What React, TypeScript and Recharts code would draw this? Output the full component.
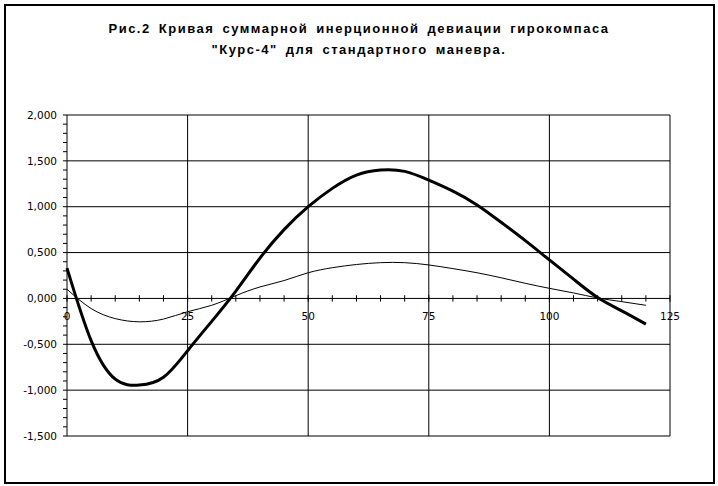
import { LineChart, Line, XAxis, YAxis, ReferenceLine } from 'recharts'

const xValues = [0, 5, 10, 15, 20, 25, 30, 35, 40, 45, 50, 55, 60, 65, 70, 75, 80, 85, 90, 95, 100, 105, 110, 115, 120]
const totalDeviation = [0.33, -0.46, -0.88, -0.945, -0.86, -0.57, -0.25, 0.08, 0.44, 0.75, 1.0, 1.2, 1.345, 1.4, 1.385, 1.29, 1.17, 1.02, 0.83, 0.63, 0.42, 0.21, 0.01, -0.135, -0.28]
const secondDeviation = [0.1, -0.11, -0.22, -0.255, -0.225, -0.145, -0.075, 0.03, 0.125, 0.195, 0.28, 0.335, 0.37, 0.39, 0.39, 0.365, 0.325, 0.28, 0.225, 0.165, 0.11, 0.06, 0.005, -0.035, -0.075]

const xMajorTicks = [0, 25, 50, 75, 100, 125]
const xMinorTicks = Array.from({ length: 26 }, (_, i) => i * 5)
const yMajorTicks = [-1.5, -1, -0.5, 0, 0.5, 1, 1.5, 2]
const yMinorTicks = Array.from({ length: 36 }, (_, i) => Math.round((-1.5 + i * 0.1) * 10) / 10)

const titleLines = ['Рис.2 Кривая суммарной инерционной девиации гирокомпаса', '"Курс-4" для стандартного маневра.']

const data = xValues.map((x, i) => ({ x, total: totalDeviation[i], second: secondDeviation[i] }))

const isMajorY = (v: number) => yMajorTicks.some((t) => Math.abs(t - v) < 1e-6)
const fmtY = (v: number) => (isMajorY(v) ? v.toFixed(3).replace('.', ',') : '')

const tickFont = { fontSize: 10.5, fill: '#000', fontFamily: '"DejaVu Sans", sans-serif' }

export default function App() {
  return (
    <div style={{ position: 'absolute', left: 0, top: 0, width: 718, height: 486, background: '#fff' }}>
      <div style={{ position: 'absolute', left: 4, top: 4, width: 707, height: 476, border: '2px solid #000' }} />
      <div
        style={{
          position: 'absolute', left: 0, top: 18, width: 718, textAlign: 'center',
          fontFamily: '"Liberation Sans", Arial, sans-serif', fontWeight: 'bold', fontSize: 13,
          letterSpacing: 1.5, wordSpacing: 3, lineHeight: '21px', color: '#000',
        }}
      >
        {titleLines.map((t) => <div key={t}>{t}</div>)}
      </div>
      <div style={{ position: 'absolute', left: 0, top: 0 }}>
        <LineChart width={718} height={486} data={data} margin={{ top: 115, right: 48, bottom: 50, left: 0 }}>
          <XAxis dataKey="x" type="number" domain={[0, 125]} ticks={xMajorTicks} hide />
          <YAxis
            type="number" domain={[-1.5, 2]} ticks={yMinorTicks} interval={0} width={67}
            tickFormatter={fmtY} tick={tickFont} tickSize={4} tickMargin={6}
            axisLine={{ stroke: '#000' }} tickLine={{ stroke: '#000' }}
          />
          {yMajorTicks.map((v) => <ReferenceLine key={'h' + v} y={v} stroke="#000" strokeWidth={1} />)}
          {xMajorTicks.slice(1).map((v) => <ReferenceLine key={'v' + v} x={v} stroke="#000" strokeWidth={1} />)}
          {xMinorTicks.map((t) => (
            <ReferenceLine
              key={'t' + t}
              segment={[{ x: t, y: -0.035 }, { x: t, y: 0.035 }]}
              stroke="#000"
              ifOverflow="visible"
              label={t % 25 === 0 ? { value: String(t), position: 'bottom', offset: 11, ...tickFont } : undefined}
            />
          ))}
          <Line dataKey="second" type="natural" stroke="#000" strokeWidth={1} dot={false} isAnimationActive={false} />
          <Line dataKey="total" type="natural" stroke="#000" strokeWidth={3} dot={false} isAnimationActive={false} />
        </LineChart>
      </div>
    </div>
  )
}
